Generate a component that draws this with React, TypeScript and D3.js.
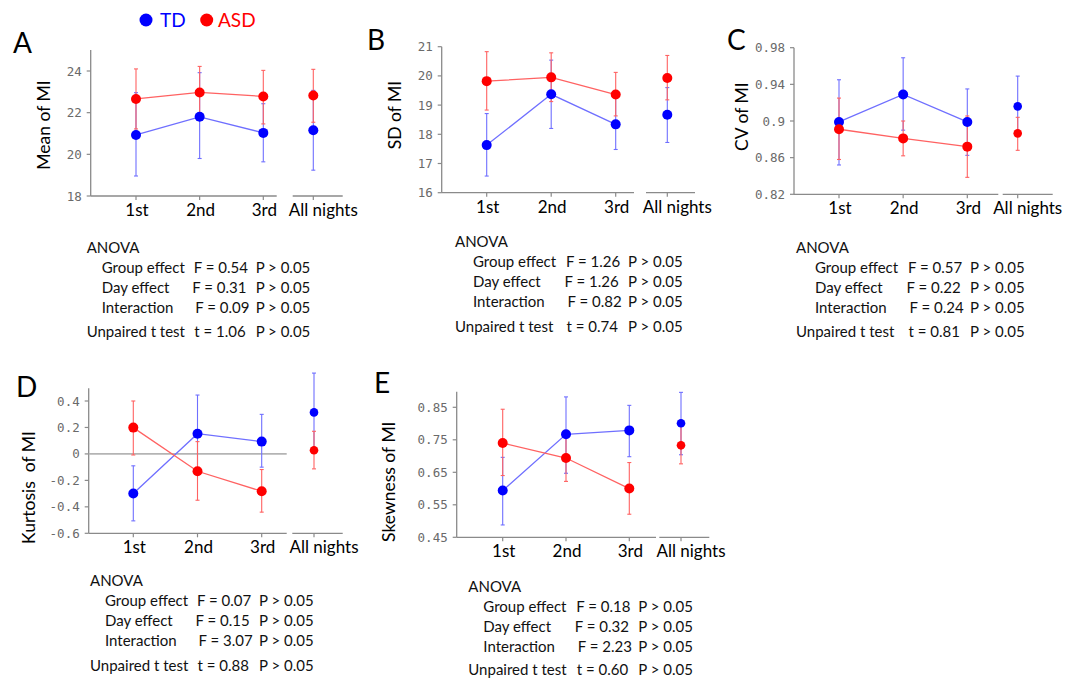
import React from 'react';
import * as d3 from 'd3';

const nights = ['1st', '2nd', '3rd'];
const allNights = 'All nights';
const groups = ['TD', 'ASD'];

// values: 1st, 2nd, 3rd, all nights
const meanTD = [20.93, 21.8, 21.03, 21.16];
const meanTDHi = [22.96, 23.92, 22.43, 23.07];
const meanTDLo = [18.96, 19.8, 19.64, 19.24];
const meanASD = [22.66, 22.97, 22.78, 22.82];
const meanASDHi = [24.1, 24.22, 24.03, 24.08];
const meanASDLo = [21.22, 21.75, 21.46, 21.54];

const sdTD = [17.63, 19.37, 18.34, 18.67];
const sdTDHi = [18.71, 20.54, 19.23, 19.6];
const sdTDLo = [16.57, 18.2, 17.48, 17.72];
const sdASD = [19.82, 19.95, 19.36, 19.93];
const sdASDHi = [20.83, 20.79, 20.12, 20.7];
const sdASDLo = [18.83, 19.12, 18.63, 19.18];

const cvTD = [0.899, 0.929, 0.899, 0.916];
const cvTDHi = [0.945, 0.969, 0.935, 0.949];
const cvTDLo = [0.852, 0.89, 0.8625, 0.884];
const cvASD = [0.891, 0.881, 0.872, 0.8865];
const cvASDHi = [0.925, 0.9, 0.9055, 0.904];
const cvASDLo = [0.858, 0.862, 0.8385, 0.868];

const kurtTD = [-0.299, 0.153, 0.093, 0.314];
const kurtTDHi = [-0.09, 0.445, 0.299, 0.611];
const kurtTDLo = [-0.506, -0.14, -0.1, 0.017];
const kurtASD = [0.199, -0.131, -0.282, 0.028];
const kurtASDHi = [0.4, 0.093, -0.118, 0.171];
const kurtASDLo = [-0.008, -0.35, -0.44, -0.113];

const skewTD = [0.594, 0.767, 0.779, 0.801];
const skewTDHi = [0.696, 0.882, 0.856, 0.896];
const skewTDLo = [0.488, 0.647, 0.698, 0.704];
const skewASD = [0.74, 0.694, 0.6, 0.733];
const skewASDHi = [0.844, 0.766, 0.68, 0.793];
const skewASDLo = [0.64, 0.622, 0.521, 0.676];

const meanTicks = [18, 20, 22, 24];
const sdTicks = [16, 17, 18, 19, 20, 21];
const cvTicks = [0.82, 0.86, 0.9, 0.94, 0.98];
const kurtTicks = [-0.6, -0.4, -0.2, 0, 0.2, 0.4];
const skewTicks = [0.45, 0.55, 0.65, 0.75, 0.85];

// group F, day F, interaction F, unpaired t
const statsMean = ['0.54', '0.31', '0.09', '1.06'];
const statsSD = ['1.26', '1.26', '0.82', '0.74'];
const statsCV = ['0.57', '0.22', '0.24', '0.81'];
const statsKurt = ['0.07', '0.15', '3.07', '0.88'];
const statsSkew = ['0.18', '0.32', '2.23', '0.60'];

const BLUE = '#0000ff';
const BLUE_L = '#6f6fff';
const RED = '#ff0000';
const RED_L = '#ff6262';
const AXIS = '#8a8a8a';
const FONT = 'Lato, "Open Sans", sans-serif';

const panels = [
  {
    letter: 'A', title: 'Mean of MI', ticks: meanTicks, stats: statsMean,
    td: [meanTD, meanTDLo, meanTDHi], asd: [meanASD, meanASDLo, meanASDHi],
    axisX: 90.7, axisEnd: 276.7, first: 136, third: 263.3, all: 313.3, seg: [292.7, 342.7],
    yBottom: 196, yTopTick: 71, axisTop: 50, letterPos: [13, 53], titlePos: [43, 125],
    text: { x: 86.7, y: 253, gdx: 15, fdx: 107, udy: 84 }, rAll: 5,
  },
  {
    letter: 'B', title: 'SD of MI', ticks: sdTicks, stats: statsSD,
    td: [sdTD, sdTDLo, sdTDHi], asd: [sdASD, sdASDLo, sdASDHi],
    axisX: 441.7, axisEnd: 634, first: 486.7, third: 615.7, all: 667.3, seg: [646, 695],
    yBottom: 192.7, yTopTick: 46.7, axisTop: 46.7, letterPos: [367, 50], titlePos: [394, 115],
    text: { x: 455, y: 246.7, gdx: 18, fdx: 111, udy: 85 }, rAll: 5,
  },
  {
    letter: 'C', title: 'CV of MI', ticks: cvTicks, stats: statsCV,
    td: [cvTD, cvTDLo, cvTDHi], asd: [cvASD, cvASDLo, cvASDHi],
    axisX: 794, axisEnd: 998.3, first: 839, third: 967.3, all: 1017.7, seg: [1002.7, 1052.7],
    yBottom: 194.3, yTopTick: 47.7, axisTop: 47.7, letterPos: [727, 50], titlePos: [741.5, 116.7],
    text: { x: 796, y: 252.7, gdx: 19, fdx: 112, udy: 84.6 }, rAll: 4.3,
  },
  {
    letter: 'D', title: 'Kurtosis  of MI', ticks: kurtTicks, stats: statsKurt,
    td: [kurtTD, kurtTDLo, kurtTDHi], asd: [kurtASD, kurtASDLo, kurtASDHi],
    axisX: 88.7, axisEnd: 286.7, first: 133.3, third: 261.7, all: 314, seg: [292.3, 342.7],
    yBottom: 533.3, yTopTick: 401, axisTop: 388.3, letterPos: [16, 397], titlePos: [28.3, 487.5],
    text: { x: 90, y: 586, gdx: 15, fdx: 107, udy: 85 }, rAll: 4.3, zero: true,
  },
  {
    letter: 'E', title: 'Skewness of MI', ticks: skewTicks, stats: statsSkew,
    td: [skewTD, skewTDLo, skewTDHi], asd: [skewASD, skewASDLo, skewASDHi],
    axisX: 456.7, axisEnd: 656, first: 502.7, third: 629.3, all: 681, seg: [659.3, 709.3],
    yBottom: 537.3, yTopTick: 407.3, axisTop: 391.7, letterPos: [374, 393], titlePos: [388.3, 481.7],
    text: { x: 468.3, y: 592, gdx: 15, fdx: 108, udy: 83 }, rAll: 4.3,
  },
];

function Panel({ p }: { p: any }) {
  const y = d3.scaleLinear()
    .domain([p.ticks[0], p.ticks[p.ticks.length - 1]])
    .range([p.yBottom, p.yTopTick]);
  const x = d3.scalePoint<string>().domain(nights).range([p.first, p.third]);
  const xPos = (i: number) => (i < nights.length ? (x(nights[i]) as number) : p.all);
  const line = d3.line<number>().x((_, i) => xPos(i)).y((d) => y(d));

  const series = [
    { name: groups[0], vals: p.td[0], lo: p.td[1], hi: p.td[2], dot: BLUE, light: BLUE_L },
    { name: groups[1], vals: p.asd[0], lo: p.asd[1], hi: p.asd[2], dot: RED, light: RED_L },
  ];

  const t = p.text;
  const rows = [
    { label: 'Group effect', dx: t.gdx, fdx: t.fdx, v: p.stats[0], pre: 'F', dy: 20 },
    { label: 'Day effect', dx: t.gdx, fdx: t.fdx - 1.5, v: p.stats[1], pre: 'F', dy: 40 },
    { label: 'Interaction', dx: t.gdx, fdx: t.fdx + 1.5, v: p.stats[2], pre: 'F', dy: 60 },
    { label: 'Unpaired t test', dx: 0, fdx: t.fdx + 0.5, v: p.stats[3], pre: 't', dy: t.udy },
  ];

  return (
    <g>
      <text x={p.letterPos[0]} y={p.letterPos[1]} fontFamily={FONT} fontSize={28}>{p.letter}</text>
      <text
        transform={`translate(${p.titlePos[0]},${p.titlePos[1]}) rotate(-90)`}
        textAnchor="middle" dominantBaseline="central" fontFamily={FONT} fontSize={17.5}
        style={{ whiteSpace: 'pre' }}
      >{p.title}</text>

      {/* y axis */}
      <line x1={p.axisX} x2={p.axisX} y1={p.axisTop} y2={p.yBottom} stroke={AXIS} strokeWidth={1.3} />
      {p.ticks.map((v: number) => (
        <g key={v}>
          <line x1={p.axisX - 4} x2={p.axisX} y1={y(v)} y2={y(v)} stroke={AXIS} strokeWidth={1.2} />
          <text x={p.axisX - 9} y={y(v)} textAnchor="end" dominantBaseline="central"
            fontFamily='"DejaVu Sans Mono", monospace' fontSize={12.5} fill="#6a6a6a">{String(v)}</text>
        </g>
      ))}

      {/* x axis */}
      <line x1={p.axisX} x2={p.axisEnd} y1={p.yBottom} y2={p.yBottom} stroke={AXIS} strokeWidth={1.3} />
      <line x1={p.seg[0]} x2={p.seg[1]} y1={p.yBottom} y2={p.yBottom} stroke={AXIS} strokeWidth={1.3} />
      {[...nights, allNights].map((n, i) => (
        <g key={n}>
          <line x1={xPos(i)} x2={xPos(i)} y1={p.yBottom} y2={p.yBottom + 4} stroke={AXIS} strokeWidth={1.2} />
          <text x={xPos(i) + (i === 3 ? 10 : 1)} y={p.yBottom + 20} textAnchor="middle"
            fontFamily={FONT} fontSize={17}>{n}</text>
        </g>
      ))}

      {p.zero && (
        <line x1={p.axisX} x2={p.axisEnd} y1={y(0)} y2={y(0)} stroke="#b4b4b4" strokeWidth={1.6} />
      )}

      {series.map((s) => (
        <g key={s.name}>
          <path d={line(s.vals.slice(0, 3)) as string} fill="none" stroke={s.light} strokeWidth={1.3} />
          {s.vals.map((_: number, i: number) => (
            <g key={i} stroke={s.light} strokeWidth={1.1}>
              <line x1={xPos(i)} x2={xPos(i)} y1={y(s.lo[i])} y2={y(s.hi[i])} />
              <line x1={xPos(i) - 2} x2={xPos(i) + 2} y1={y(s.lo[i])} y2={y(s.lo[i])} />
              <line x1={xPos(i) - 2} x2={xPos(i) + 2} y1={y(s.hi[i])} y2={y(s.hi[i])} />
            </g>
          ))}
        </g>
      ))}
      {series.map((s) => (
        <g key={s.name + 'dots'} fill={s.dot}>
          {s.vals.map((v: number, i: number) => (
            <circle key={i} cx={xPos(i)} cy={y(v)} r={i === 3 ? p.rAll : 5} />
          ))}
        </g>
      ))}

      {/* statistics */}
      <g fontFamily={FONT} fontSize={15} fill="#111">
        <text x={t.x} y={t.y}>ANOVA</text>
        {rows.map((r) => (
          <g key={r.label}>
            <text x={t.x + r.dx} y={t.y + r.dy}>{r.label}</text>
            <text x={t.x + r.fdx} y={t.y + r.dy} style={{ whiteSpace: 'pre' }}>{`${r.pre} = ${r.v}`}</text>
            <text x={t.x + t.fdx + 62} y={t.y + r.dy}>{'P > 0.05'}</text>
          </g>
        ))}
      </g>
    </g>
  );
}

export default function App() {
  return (
    <svg width={1083} height={682} style={{ position: 'absolute', left: 0, top: 0, background: '#fff' }}>
      <g>
        <circle cx={146} cy={20} r={6.5} fill={BLUE} />
        <text x={160} y={27} fontFamily={FONT} fontSize={19} fill={BLUE}>{groups[0]}</text>
        <circle cx={206.7} cy={20} r={6.5} fill={RED} />
        <text x={218} y={27} fontFamily={FONT} fontSize={19} fill={RED}>{groups[1]}</text>
      </g>
      {panels.map((p) => <Panel key={p.letter} p={p} />)}
    </svg>
  );
}
